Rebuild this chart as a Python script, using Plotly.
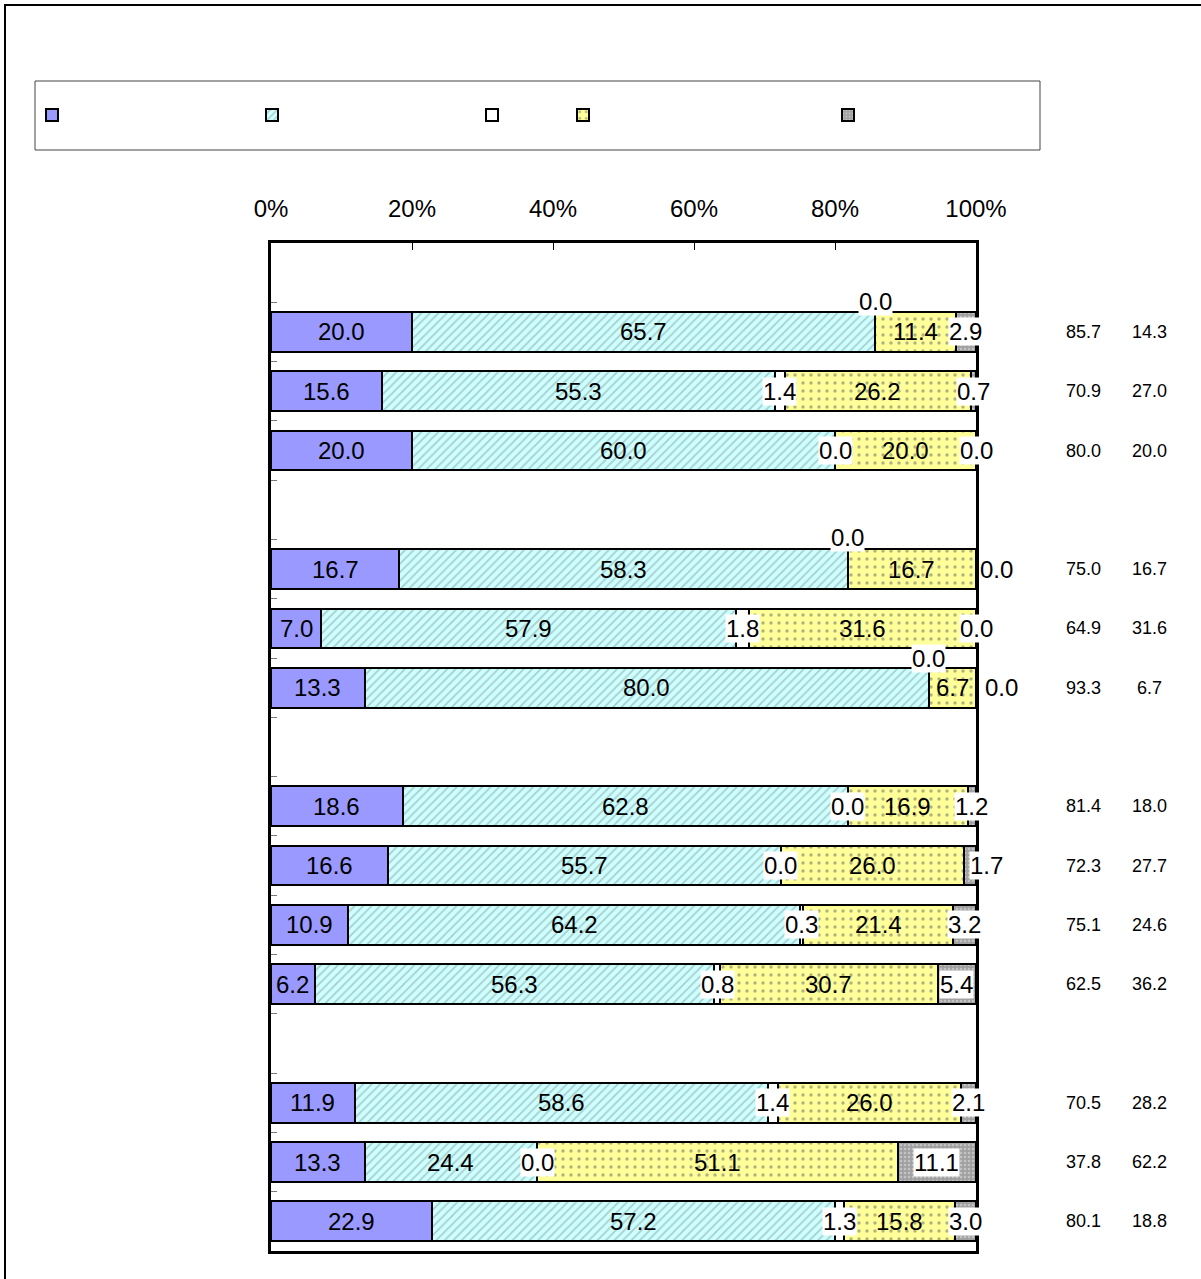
import plotly.graph_objects as go

# ---------------- data ----------------
slots = ["gap0", "r1", "r2", "r3", "gap1", "r4", "r5", "r6", "gap2",
         "r7", "r8", "r9", "r10", "gap3", "r11", "r12", "r13"]
rows = ["r1", "r2", "r3", "r4", "r5", "r6", "r7", "r8", "r9", "r10", "r11", "r12", "r13"]
series_names = ["\u00a0", "\u00a0", "\u00a0", "\u00a0", "\u00a0"]

s1 = [20.0, 15.6, 20.0, 16.7, 7.0, 13.3, 18.6, 16.6, 10.9, 6.2, 11.9, 13.3, 22.9]
s2 = [65.7, 55.3, 60.0, 58.3, 57.9, 80.0, 62.8, 55.7, 64.2, 56.3, 58.6, 24.4, 57.2]
s3 = [0.0, 1.4, 0.0, 0.0, 1.8, 0.0, 0.0, 0.0, 0.3, 0.8, 1.4, 0.0, 1.3]
s4 = [11.4, 26.2, 20.0, 16.7, 31.6, 6.7, 16.9, 26.0, 21.4, 30.7, 26.0, 51.1, 15.8]
s5 = [2.9, 0.7, 0.0, 0.0, 0.0, 0.0, 1.2, 1.7, 3.2, 5.4, 2.1, 11.1, 3.0]

pos_total = [85.7, 70.9, 80.0, 75.0, 64.9, 93.3, 81.4, 72.3, 75.1, 62.5, 70.5, 37.8, 80.1]
neg_total = [14.3, 27.0, 20.0, 16.7, 31.6, 6.7, 18.0, 27.7, 24.6, 36.2, 28.2, 62.2, 18.8]

x_ticks = [0, 20, 40, 60, 80, 100]
x_tick_labels = ["0%", "20%", "40%", "60%", "80%", "100%"]

# ---------------- styles ----------------
W, H = 1201, 1279
L, T = 271, 243
PW, PH = 705, 1008
R, B = W - L - PW, H - T - PH


def px_x(p):
    return (p - L) / PW


def px_y(p):
    return (T + PH - p) / PH


all_series = [s1, s2, s3, s4, s5]
markers = [
    dict(color="#9999FF", line=dict(color="black", width=2)),
    dict(color="#CCFFFF", line=dict(color="black", width=2),
         pattern=dict(shape="/", fgcolor="#8a9a9a", bgcolor="#CCFFFF", size=6, solidity=0.3)),
    dict(color="white", line=dict(color="black", width=2)),
    dict(color="#FFFF99", line=dict(color="black", width=2),
         pattern=dict(shape=".", fgcolor="#666666", bgcolor="#FFFF99", size=8, solidity=0.15)),
    dict(color="#A0A0A0", line=dict(color="black", width=2),
         pattern=dict(shape=".", fgcolor="#E6E6E6", bgcolor="#A0A0A0", size=4, solidity=0.35)),
]
legend_ids = ["legend", "legend2", "legend3", "legend4", "legend5"]
legend_centers_px = [52, 272, 492, 583, 848]
label_bg = [None, None, "white", None, "white"]
# label nudges (row index, series index) -> (xshift, yshift)
nudges = {(0, 2): (0, 30), (3, 2): (0, 32), (5, 2): (0, 29),
          (3, 4): (20, 0), (5, 4): (25, 0), (7, 4): (16, 0)}

FONT = "Liberation Sans, Arial, sans-serif"

fig = go.Figure()
for k, vals in enumerate(all_series):
    lookup = dict(zip(rows, vals))
    fig.add_trace(go.Bar(
        y=slots,
        x=[lookup.get(s) for s in slots],
        orientation="h",
        name=series_names[k],
        marker=markers[k],
        legend=legend_ids[k],
        hoverinfo="skip",
    ))

# data labels
annotations = []
for i, r in enumerate(rows):
    vals = [s[i] for s in all_series]
    total = sum(vals)
    cum = 0.0
    for k, v in enumerate(vals):
        center = (cum + v / 2.0) / total
        cum += v
        dx, dy = nudges.get((i, k), (0, 0))
        ann = dict(x=center, y=r, xref="paper", yref="y", text=f"{v:.1f}",
                   xanchor="center", yanchor="middle",
                   showarrow=False, font=dict(family=FONT, size=24, color="black"),
                   xshift=dx, yshift=dy, borderpad=0)
        if label_bg[k]:
            ann["bgcolor"] = label_bg[k]
        annotations.append(ann)
    for xp, val in ((1083, pos_total[i]), (1149, neg_total[i])):
        annotations.append(dict(x=px_x(xp), y=r, xref="paper", yref="y",
                                xanchor="center", yanchor="middle",
                                text=f"{val:.1f}", showarrow=False,
                                font=dict(family=FONT, size=18, color="black")))

shapes = [
    # outer frame
    dict(type="rect", xref="paper", yref="paper",
         x0=px_x(5), x1=px_x(1220), y0=px_y(1300), y1=px_y(5),
         line=dict(color="black", width=2), fillcolor="rgba(0,0,0,0)", layer="below"),
    # legend frame
    dict(type="rect", xref="paper", yref="paper",
         x0=px_x(35), x1=px_x(1040), y0=px_y(150), y1=px_y(81),
         line=dict(color="#444444", width=1), fillcolor="rgba(0,0,0,0)"),
]

layout_legends = {}
for k, lid in enumerate(legend_ids):
    layout_legends[lid] = dict(
        x=px_x(legend_centers_px[k] - 20), y=px_y(115),
        xanchor="left", yanchor="middle", orientation="h",
        bgcolor="rgba(0,0,0,0)", borderwidth=0,
        font=dict(family=FONT, size=12), itemclick=False,
    )

fig.update_layout(
    width=W, height=H,
    margin=dict(l=L, r=R, t=T, b=B, autoexpand=False),
    barmode="stack", barnorm="percent", bargap=0.33,
    plot_bgcolor="white", paper_bgcolor="white",
    showlegend=True,
    annotations=annotations,
    shapes=shapes,
    **layout_legends,
)
fig.update_xaxes(
    side="top", range=[0, 100], tickvals=x_ticks, ticktext=x_tick_labels,
    ticks="inside", ticklen=7, tickwidth=1, tickcolor="black",
    showgrid=False, zeroline=False,
    showline=True, linecolor="black", linewidth=2.5, mirror=True,
    tickfont=dict(family=FONT, size=24, color="black"),
    ticklabelstandoff=14, fixedrange=True,
)
fig.update_yaxes(
    type="category", categoryorder="array", categoryarray=slots,
    range=[len(slots) - 0.5, -0.5],
    showticklabels=False, ticks="inside", tickson="boundaries",
    ticklen=6, tickcolor="#777777",
    showgrid=False, zeroline=False,
    showline=True, linecolor="black", linewidth=2.5, mirror=True, fixedrange=True,
)

fig.write_html(
    "out.html",
    config={"displayModeBar": False},
    post_script="document.body.style.margin='0';document.body.style.overflow='hidden';",
)
